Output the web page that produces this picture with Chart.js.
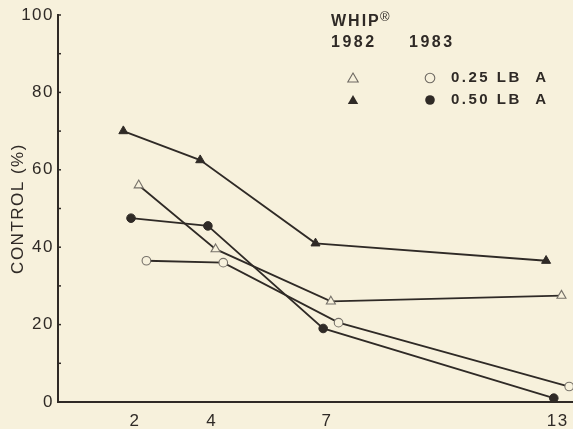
<!DOCTYPE html>
<html>
<head>
<meta charset="utf-8">
<script src="https://cdn.jsdelivr.net/npm/chart.js@4.4.1/dist/chart.umd.min.js"></script>
<style>
  html, body { margin: 0; padding: 0; background: #f7f1dc; }
  #wrap { width: 573px; height: 429px; position: relative; }
</style>
</head>
<body>
<div id="wrap"><canvas id="c"></canvas></div>
<script>
// days after treatment (axis ticks)
var dayTicks = [2, 4, 7, 13];
var yTicks = [0, 20, 40, 60, 80, 100];

// 1982 series (points drawn slightly offset from the tick day, as in the figure)
var x1982Low = [2.1, 4.1, 7.1, 13.1];
var y1982Low = [56, 39.5, 26, 27.5];      // 0.25 LB/A, open triangle
var x1982High = [1.7, 3.7, 6.7, 12.7];
var y1982High = [70, 62.5, 41, 36.5];     // 0.50 LB/A, filled triangle

// 1983 series
var x1983Low = [2.3, 4.3, 7.3, 13.3];
var y1983Low = [36.5, 36, 20.5, 4];       // 0.25 LB/A, open circle
var x1983High = [1.9, 3.9, 6.9, 12.9];
var y1983High = [47.5, 45.5, 19, 1];      // 0.50 LB/A, filled circle

var ink = '#2f2a26';
var paper = '#f7f1dc';
var font = '"Liberation Sans", Arial, sans-serif';

function pts(xs, ys) {
    return xs.map(function (x, i) { return { x: x, y: ys[i] }; });
}

function series(label, xs, ys, style, filled) {
    return {
        label: label,
        data: pts(xs, ys),
        borderColor: ink,
        borderWidth: 1.8,
        pointStyle: style,
        pointRadius: style === 'triangle' ? 5.2 : 4.3,
        pointBorderWidth: filled ? 1 : 1.1,
        pointBorderColor: filled ? ink : '#77726a',
        pointBackgroundColor: filled ? ink : paper,
        tension: 0,
        fill: false,
        clip: false
    };
}

/* minor ticks on y axis + legend block */
var decor = {
    id: 'decor',
    beforeDraw: function (chart) {
        chart.ctx.letterSpacing = '1.5px';
    },
    afterDraw: function (chart) {
        var ctx = chart.ctx;
        var ys = chart.scales.y;
        ctx.save();
        ctx.strokeStyle = ink;
        ctx.lineWidth = 1.5;
        for (var v = 0; v <= 100; v += 10) {
            var py = ys.getPixelForValue(v);
            ctx.beginPath();
            ctx.moveTo(ys.right, py);
            ctx.lineTo(ys.right + 3, py);
            ctx.stroke();
        }

        // legend
        ctx.fillStyle = ink;
        ctx.textBaseline = 'middle';
        ctx.textAlign = 'left';
        ctx.letterSpacing = '2px';
        ctx.font = 'bold 16px ' + font;
        ctx.fillText('WHIP', 331, 22);
        ctx.letterSpacing = '0px';
        ctx.font = '13px ' + font;
        ctx.fillText('\u00AE', 380, 17);
        ctx.letterSpacing = '2.5px';
        ctx.font = 'bold 16px ' + font;
        ctx.fillText('1982', 331, 43);
        ctx.fillText('1983', 409, 43);
        ctx.letterSpacing = '2.5px';
        ctx.font = 'bold 15px ' + font;
        ctx.fillText('0.25 LB  A', 451, 78);
        ctx.fillText('0.50 LB  A', 451, 100);

        function tri(x, y, r, filled) {
            ctx.beginPath();
            ctx.moveTo(x, y - r);
            ctx.lineTo(x + r * 0.866, y + r * 0.5);
            ctx.lineTo(x - r * 0.866, y + r * 0.5);
            ctx.closePath();
            if (filled) { ctx.fillStyle = ink; ctx.fill(); }
            else { ctx.strokeStyle = '#6e6962'; ctx.lineWidth = 1.1; ctx.stroke(); }
        }
        function circ(x, y, r, filled) {
            ctx.beginPath();
            ctx.arc(x, y, r, 0, Math.PI * 2);
            if (filled) { ctx.fillStyle = ink; ctx.fill(); }
            else { ctx.strokeStyle = '#6e6962'; ctx.lineWidth = 1.1; ctx.stroke(); }
        }
        tri(353, 79, 6, false);
        tri(353, 101, 6, true);
        circ(430, 78, 4.8, false);
        circ(430, 100, 4.8, true);
        ctx.restore();
    }
};

new Chart(document.getElementById('c'), {
    type: 'line',
    data: {
        datasets: [
            series('1982 0.50 LB/A', x1982High, y1982High, 'triangle', true),
            series('1982 0.25 LB/A', x1982Low, y1982Low, 'triangle', false),
            series('1983 0.50 LB/A', x1983High, y1983High, 'circle', true),
            series('1983 0.25 LB/A', x1983Low, y1983Low, 'circle', false)
        ]
    },
    options: {
        responsive: true,
        maintainAspectRatio: false,
        animation: false,
        layout: { autoPadding: false, padding: { top: 15, right: 0, left: 0, bottom: 0 } },
        plugins: { legend: { display: false }, tooltip: { enabled: false } },
        scales: {
            x: {
                type: 'linear',
                min: 0,
                max: 13.4,
                afterBuildTicks: function (s) {
                    s.ticks = dayTicks.map(function (v) { return { value: v }; });
                },
                afterFit: function (s) { s.height = 27; s.paddingLeft = 0; s.paddingRight = 0; },
                grid: { display: false, drawTicks: false },
                border: { display: true, color: ink, width: 2 },
                ticks: {
                    color: ink, padding: 9, maxRotation: 0, autoSkip: false,
                    font: { family: font, size: 17 }
                }
            },
            y: {
                min: 0,
                max: 100,
                afterBuildTicks: function (s) {
                    s.ticks = yTicks.map(function (v) { return { value: v }; });
                },
                afterFit: function (s) { s.width = 58; s.paddingTop = 0; s.paddingBottom = 0; },
                grid: { display: false, drawTicks: false },
                border: { display: true, color: ink, width: 2 },
                ticks: {
                    color: ink, padding: 4,
                    font: { family: font, size: 17 }
                },
                title: {
                    display: true,
                    text: 'CONTROL (%)',
                    color: ink,
                    padding: { top: 8, bottom: 0 },
                    font: { family: font, size: 17 }
                }
            }
        }
    },
    plugins: [decor]
});
</script>
</body>
</html>
